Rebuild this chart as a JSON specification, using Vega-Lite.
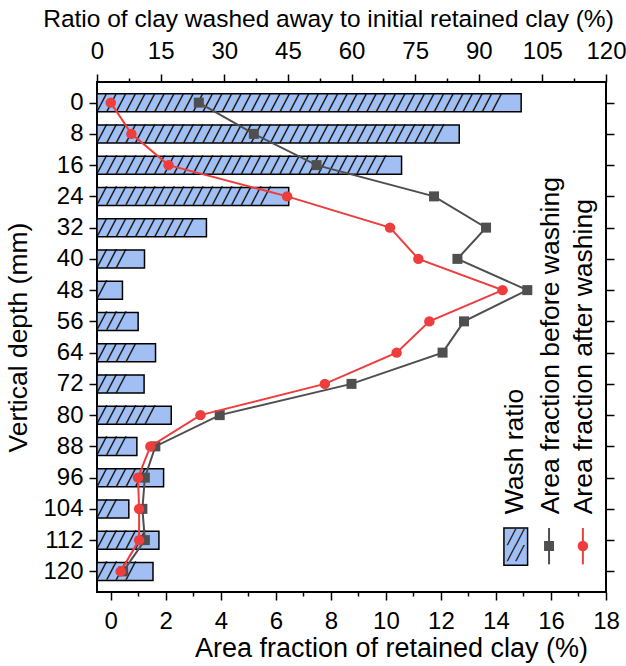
{
  "$schema": "https://vega.github.io/schema/vega-lite/v6.json",
  "width": 509,
  "height": 510,
  "autosize": {"type": "none"},
  "padding": {"left": 97, "top": 82, "right": 20, "bottom": 74},
  "config": {
    "view": {"stroke": "black", "strokeWidth": 2},
    "font": "Liberation Sans",
    "axis": {
      "labelFont": "Liberation Sans",
      "titleFont": "Liberation Sans",
      "labelColor": "black",
      "titleColor": "black",
      "titleFontWeight": "normal",
      "tickColor": "black",
      "tickWidth": 1.5,
      "domain": false,
      "grid": false,
      "labelFontSize": 24,
      "titleFontSize": 26,
      "labelOverlap": false
    }
  },
  "data": {
    "values": [
      {"depth": 0, "ratio": 100.0, "before": 3.2, "after": 0.0},
      {"depth": 8, "ratio": 85.4, "before": 5.2, "after": 0.75},
      {"depth": 16, "ratio": 71.8, "before": 7.48, "after": 2.1},
      {"depth": 24, "ratio": 45.2, "before": 11.75, "after": 6.41},
      {"depth": 32, "ratio": 25.8, "before": 13.64, "after": 10.15},
      {"depth": 40, "ratio": 11.2, "before": 12.6, "after": 11.18},
      {"depth": 48, "ratio": 6.0, "before": 15.14, "after": 14.24},
      {"depth": 56, "ratio": 9.7, "before": 12.84, "after": 11.58},
      {"depth": 64, "ratio": 13.8, "before": 12.06, "after": 10.39},
      {"depth": 72, "ratio": 11.1, "before": 8.75, "after": 7.78},
      {"depth": 80, "ratio": 17.5, "before": 3.96, "after": 3.26},
      {"depth": 88, "ratio": 9.4, "before": 1.62, "after": 1.44},
      {"depth": 96, "ratio": 15.7, "before": 1.24, "after": 0.99},
      {"depth": 104, "ratio": 7.5, "before": 1.15, "after": 1.03},
      {"depth": 112, "ratio": 14.6, "before": 1.24, "after": 1.03},
      {"depth": 120, "ratio": 13.2, "before": 0.45, "after": 0.36}
    ]
  },
  "layer": [
    {
      "layer": [
        {
          "mark": {"type": "bar", "orient": "horizontal", "height": 18, "fill": "#a2bff3", "stroke": "black", "strokeWidth": 1.5},
          "encoding": {
            "x": {
              "field": "ratio", "type": "quantitative",
              "scale": {"domain": [0, 120], "nice": false},
              "axis": {
                "orient": "top",
                "title": "Ratio of clay washed away to initial retained clay (%)",
                "titleFontSize": 24.5,
                "titleX": 231,
                "values": [0, 7.5, 15, 22.5, 30, 37.5, 45, 52.5, 60, 67.5, 75, 82.5, 90, 97.5, 105, 112.5, 120],
                "tickCount": 50,
                "format": "~g",
                "labelExpr": "datum.value % 15 === 0 ? datum.label : ''",
                "tickSize": {"condition": {"test": "datum.value % 15 === 0", "value": 8}, "value": 4},
                "labelPadding": 11,
                "titlePadding": 8,
                "labelFlush": false
              }
            },
            "y": {
              "field": "depth", "type": "quantitative",
              "scale": {"domain": [-4, 124], "reverse": true, "nice": false, "zero": false},
              "axis": {
                "values": [0, 8, 16, 24, 32, 40, 48, 56, 64, 72, 80, 88, 96, 104, 112, 120],
                "tickCount": 50,
                "format": "d",
                "title": "Vertical depth (mm)",
                "titleFontSize": 26.5,
                "labelFlush": false,
                "labelFontSize": 24,
                "tickSize": 8,
                "labelPadding": 6,
                "titlePadding": 10
              }
            }
          }
        },
        {
          "mark": {
            "type": "text",
            "text": "╱╱╱╱╱╱╱╱╱╱╱╱╱╱╱╱╱╱╱╱╱╱╱╱╱╱╱╱╱╱╱╱╱╱╱╱╱╱╱╱╱╱╱╱╱╱╱╱╱╱╱╱╱╱",
            "align": "left",
            "baseline": "middle",
            "font": "DejaVu Sans Mono",
            "fontSize": 16,
            "color": "black",
            "ellipsis": " ",
            "limit": {"expr": "datum.ratio / 120 * width - 1"}
          },
          "encoding": {
            "x": {"datum": 0, "type": "quantitative"},
            "y": {"field": "depth", "type": "quantitative"}
          }
        }
      ]
    },
    {
      "layer": [
        {
          "mark": {"type": "line", "color": "#4f4f4f", "strokeWidth": 2},
          "encoding": {
            "x": {
              "field": "before", "type": "quantitative",
              "scale": {"domain": [-0.5, 18], "nice": false, "zero": false},
              "axis": {
                "orient": "bottom",
                "title": "Area fraction of retained clay (%)",
                "titleFontSize": 27,
                "titleX": 294,
                "values": [0, 1, 2, 3, 4, 5, 6, 7, 8, 9, 10, 11, 12, 13, 14, 15, 16, 17, 18],
                "tickCount": 50,
                "format": "d",
                "labelExpr": "datum.value % 2 === 0 ? datum.label : ''",
                "tickSize": {"condition": {"test": "datum.value % 2 === 0", "value": 8}, "value": 4},
                "labelPadding": 9,
                "titlePadding": 2,
                "labelFlush": false
              }
            },
            "y": {
              "field": "depth", "type": "quantitative",
              "axis": {
                "orient": "right",
                "labels": false,
                "title": null,
                "tickSize": 8,
                "tickCount": 50,
                "values": [0, 8, 16, 24, 32, 40, 48, 56, 64, 72, 80, 88, 96, 104, 112, 120]
              }
            },
            "order": {"field": "depth"}
          }
        },
        {
          "mark": {"type": "point", "shape": "square", "filled": true, "size": 100, "color": "#4f4f4f", "opacity": 1},
          "encoding": {
            "x": {"field": "before", "type": "quantitative"},
            "y": {"field": "depth", "type": "quantitative"}
          }
        },
        {
          "mark": {"type": "line", "color": "#ee3d3d", "strokeWidth": 2},
          "encoding": {
            "x": {"field": "after", "type": "quantitative"},
            "y": {"field": "depth", "type": "quantitative"},
            "order": {"field": "depth"}
          }
        },
        {
          "mark": {"type": "point", "shape": "circle", "filled": true, "size": 110, "color": "#ee3d3d", "opacity": 1},
          "encoding": {
            "x": {"field": "after", "type": "quantitative"},
            "y": {"field": "depth", "type": "quantitative"}
          }
        },
        {
          "data": {"values": [{"item": "Wash ratio"}]},
          "mark": {"type": "rect", "fill": "#a2bff3", "stroke": "black", "strokeWidth": 1.5},
          "encoding": {
            "x": {"datum": 14.29, "type": "quantitative"},
            "x2": {"datum": 15.15},
            "y": {"datum": 108.9, "type": "quantitative"},
            "y2": {"datum": 118.4}
          }
        },
        {
          "data": {"values": [{"item": "Wash ratio"}]},
          "mark": {
            "type": "text",
            "text": ["╱╱", "╱╱"],
            "lineHeight": 16,
            "align": "center",
            "baseline": "middle",
            "font": "DejaVu Sans Mono",
            "fontSize": 14,
            "color": "black"
          },
          "encoding": {
            "x": {"datum": 14.72, "type": "quantitative"},
            "y": {"datum": 111.4, "type": "quantitative"}
          }
        },
        {
          "data": {"values": [{"item": "Area fraction before washing"}]},
          "mark": {"type": "rule", "color": "#4f4f4f", "strokeWidth": 2},
          "encoding": {
            "x": {"datum": 15.93, "type": "quantitative"},
            "y": {"datum": 108.9, "type": "quantitative"},
            "y2": {"datum": 118.2}
          }
        },
        {
          "data": {"values": [{"item": "Area fraction before washing"}]},
          "mark": {"type": "point", "shape": "square", "filled": true, "size": 100, "color": "#4f4f4f", "opacity": 1},
          "encoding": {
            "x": {"datum": 15.93, "type": "quantitative"},
            "y": {"datum": 113.5, "type": "quantitative"}
          }
        },
        {
          "data": {"values": [{"item": "Area fraction after washing"}]},
          "mark": {"type": "rule", "color": "#ee3d3d", "strokeWidth": 2},
          "encoding": {
            "x": {"datum": 17.16, "type": "quantitative"},
            "y": {"datum": 108.9, "type": "quantitative"},
            "y2": {"datum": 118.2}
          }
        },
        {
          "data": {"values": [{"item": "Area fraction after washing"}]},
          "mark": {"type": "point", "shape": "circle", "filled": true, "size": 110, "color": "#ee3d3d", "opacity": 1},
          "encoding": {
            "x": {"datum": 17.16, "type": "quantitative"},
            "y": {"datum": 113.5, "type": "quantitative"}
          }
        },
        {
          "data": {"values": [{"item": "Wash ratio"}]},
          "mark": {"type": "text", "text": "Wash ratio", "angle": 270, "align": "left", "baseline": "middle", "fontSize": 26.5, "font": "Liberation Sans", "color": "black"},
          "encoding": {
            "x": {"datum": 14.69, "type": "quantitative"},
            "y": {"datum": 105.4, "type": "quantitative"}
          }
        },
        {
          "data": {"values": [{"item": "Area fraction before washing"}]},
          "mark": {"type": "text", "text": "Area fraction before washing", "angle": 270, "align": "left", "baseline": "middle", "fontSize": 26.5, "font": "Liberation Sans", "color": "black"},
          "encoding": {
            "x": {"datum": 15.99, "type": "quantitative"},
            "y": {"datum": 105.4, "type": "quantitative"}
          }
        },
        {
          "data": {"values": [{"item": "Area fraction after washing"}]},
          "mark": {"type": "text", "text": "Area fraction after washing", "angle": 270, "align": "left", "baseline": "middle", "fontSize": 26.5, "font": "Liberation Sans", "color": "black"},
          "encoding": {
            "x": {"datum": 17.2, "type": "quantitative"},
            "y": {"datum": 105.4, "type": "quantitative"}
          }
        }
      ]
    }
  ],
  "resolve": {"scale": {"x": "independent"}, "axis": {"y": "independent"}}
}
